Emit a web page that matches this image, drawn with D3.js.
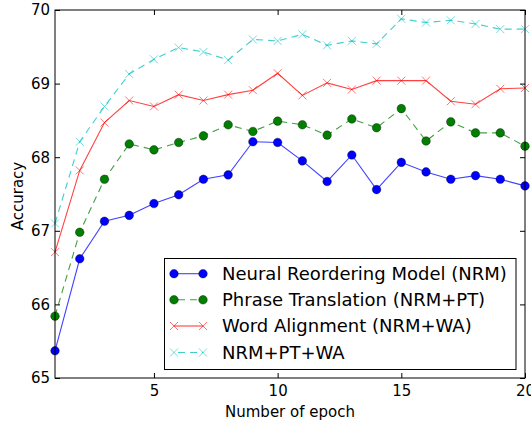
<!DOCTYPE html>
<html><head><meta charset="utf-8">
<script src="https://cdn.jsdelivr.net/npm/d3@7"></script>
<style>body{margin:0;background:#fff;} svg{display:block;font-family:"DejaVu Sans",sans-serif;}</style>
</head><body><svg id="c" width="531" height="425"></svg>
<script>
const epochs = d3.range(1, 21);
const nrm = [65.37,66.62,67.13,67.21,67.37,67.49,67.70,67.76,68.21,68.20,67.95,67.67,68.03,67.56,67.93,67.80,67.70,67.75,67.70,67.61];
const nrmPT = [65.84,66.98,67.70,68.18,68.10,68.20,68.29,68.44,68.35,68.49,68.44,68.30,68.52,68.40,68.66,68.22,68.48,68.33,68.33,68.15];
const nrmWA = [66.71,67.82,68.47,68.77,68.69,68.85,68.77,68.85,68.91,69.14,68.84,69.01,68.92,69.04,69.04,69.04,68.76,68.72,68.93,68.94];
const nrmPTWA = [67.10,68.21,68.69,69.13,69.33,69.49,69.43,69.32,69.60,69.58,69.67,69.52,69.58,69.54,69.88,69.83,69.86,69.81,69.74,69.74];
const xTicks = [5, 10, 15, 20];
const yTicks = [65, 66, 67, 68, 69, 70];
const seriesNames = ["Neural Reordering Model (NRM)", "Phrase Translation (NRM+PT)", "Word Alignment (NRM+WA)", "NRM+PT+WA"];

const series = [
  {name: seriesNames[0], values: nrm, color: "#0000ff", dash: null, marker: "o"},
  {name: seriesNames[1], values: nrmPT, color: "#007f00", dash: "7,5", marker: "o"},
  {name: seriesNames[2], values: nrmWA, color: "#ff0000", dash: null, marker: "x"},
  {name: seriesNames[3], values: nrmPTWA, color: "#00bfbf", dash: "7,5", marker: "x"}
];

const L = 55, R = 525, T = 10, B = 378;
const x = d3.scaleLinear().domain([1, 20]).range([L, R]);
const y = d3.scaleLinear().domain([65, 70]).range([B, T]);
const svg = d3.select("#c");

const plot = svg.append("g");
const line = d3.line().x((d, i) => x(epochs[i])).y(d => y(d));

function drawMarker(g, type, cx, cy, color) {
  if (type === "o") {
    g.append("circle").attr("cx", cx).attr("cy", cy).attr("r", 4.3)
      .attr("fill", color).attr("stroke", "#000").attr("stroke-width", 0.6).attr("stroke-opacity", 0.6);
  } else {
    const s = 4;
    g.append("path").attr("d", `M${cx-s},${cy-s}L${cx+s},${cy+s}M${cx-s},${cy+s}L${cx+s},${cy-s}`)
      .attr("stroke", color).attr("stroke-width", 1).attr("stroke-opacity", 0.55).attr("fill", "none");
  }
}

series.forEach(s => {
  plot.append("path").datum(s.values).attr("d", line)
    .attr("fill", "none").attr("stroke", s.color).attr("stroke-width", 1.1)
    .attr("stroke-opacity", 0.75).attr("stroke-dasharray", s.dash);
  const mg = plot.append("g");
  s.values.forEach((v, i) => drawMarker(mg, s.marker, x(epochs[i]), y(v), s.color));
});

// frame
svg.append("rect").attr("x", L).attr("y", T).attr("width", R - L).attr("height", B - T)
  .attr("fill", "none").attr("stroke", "#000").attr("stroke-width", 1);

// axes with inward ticks
const axB = svg.append("g").attr("transform", `translate(0,${B})`)
  .call(d3.axisBottom(x).tickValues(xTicks).tickSize(-5).tickPadding(7).tickFormat(d3.format("d")));
const axT = svg.append("g").attr("transform", `translate(0,${T})`)
  .call(d3.axisTop(x).tickValues(xTicks).tickSize(-5).tickFormat(""));
const axL = svg.append("g").attr("transform", `translate(${L},0)`)
  .call(d3.axisLeft(y).tickValues(yTicks).tickSize(-5).tickPadding(5).tickFormat(d3.format("d")));
const axR = svg.append("g").attr("transform", `translate(${R},0)`)
  .call(d3.axisRight(y).tickValues(yTicks).tickSize(-5).tickFormat(""));
[axB, axT, axL, axR].forEach(a => {
  a.select(".domain").remove();
  a.selectAll("line").attr("stroke", "#000");
  a.selectAll("text").attr("font-size", 15).attr("fill", "#000").attr("font-family", "DejaVu Sans");
});

svg.append("text").attr("x", 290).attr("y", 417).attr("text-anchor", "middle")
  .attr("font-size", 15).text("Number of epoch");
svg.append("text").attr("transform", `translate(23,196) rotate(-90)`)
  .attr("text-anchor", "middle").attr("font-size", 15).text("Accuracy");

// legend
const lg = svg.append("g");
lg.append("rect").attr("x", 164.5).attr("y", 258.5).attr("width", 351.5).attr("height", 111)
  .attr("fill", "#fff").attr("stroke", "#000").attr("stroke-width", 1);
const rowY = [273.7, 299.8, 326, 352.5];
series.forEach((s, i) => {
  const yy = rowY[i];
  lg.append("line").attr("x1", 174).attr("x2", 203).attr("y1", yy).attr("y2", yy)
    .attr("stroke", s.color).attr("stroke-width", 1.1).attr("stroke-opacity", 0.75)
    .attr("stroke-dasharray", s.dash ? "7,5" : null)
    .attr("stroke-dashoffset", s.dash ? -4 : null);
  drawMarker(lg, s.marker, 174, yy, s.color);
  drawMarker(lg, s.marker, 203, yy, s.color);
  lg.append("text").attr("x", 222).attr("y", yy).attr("dy", "0.36em")
    .attr("font-size", 18).text(s.name);
});
</script></body></html>
